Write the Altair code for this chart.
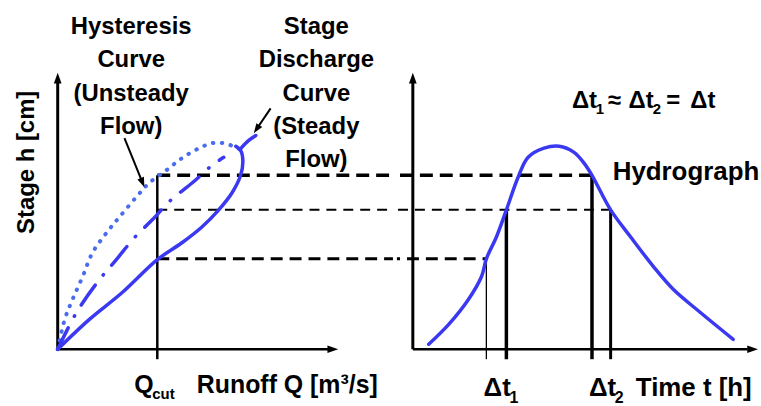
import math
import altair as alt
import pandas as pd

FONT = "Liberation Sans"
BLUE = "#3b38f2"
DOT_BLUE = "#4a6cf0"
LEFT_W, RIGHT_W, HEIGHT = 395, 366, 406

# ---------------- data ----------------
# stage h [cm], runoff Q [m3/s], time t [h]
H_DOMAIN = [-20.14, 125.9]
Q_DOMAIN = [-20.57, 119.5]
T_DOMAIN = [-4.61, 100.86]
AXIS_END = 100
BELOW_AXIS = -3.6

STAGE_LEVELS = [62.9, 50.4, 32.7]
Q_CUT = 35.5
LEVEL_T_END = [51.9, 57.3, 21.3]
T_MARKS = [21.3, 27.1, 51.9, 57.3]
T_MARK_TOPS = [32.7, 50.4, 62.9, 50.4]

# hysteresis loop, rising branch (dotted)
HYST_RISE_Q = [0, 2.5, 5.3, 8.9, 12.4, 17.4, 22.0, 28.0, 32.6, 38.7, 44.3, 50.4, 55.0, 59.2, 63.5, 64.8]
HYST_RISE_H = [0, 10.8, 18.0, 26.3, 34.9, 42.1, 47.8, 55.0, 60.1, 64.7, 69.1, 72.7, 74.5, 74.5, 73.0, 72.3]
# hysteresis loop, falling branch (solid)
HYST_FALL_Q = [0, 11.3, 23.0, 35.5, 44.3, 51.4, 57.4, 62.1, 65.2, 66.0, 65.2, 63.5]
HYST_FALL_H = [0, 10.8, 20.5, 32.4, 38.5, 44.2, 50.4, 56.5, 62.9, 68.3, 71.9, 73.4]
# stage-discharge curve (steady flow, dash-dot) and its tail
STEADY_Q = [0, 6.7, 14.9, 20.9, 27.3, 33.7, 40.4, 47.9, 55.0, 59.2]
STEADY_H = [0, 13.3, 25.2, 32.4, 40.3, 46.8, 54.0, 60.1, 66.5, 69.4]
TAIL_Q = [65.0, 68.1, 70.6]
TAIL_H = [72.3, 75.5, 77.3]

# hydrograph
HYDRO_T = [4.6, 10.4, 16.1, 19.9, 21.3, 24.2, 27.1, 30.5, 33.4, 38.0, 42.4, 46.7,
           49.6, 51.9, 57.3, 63.1, 69.7, 75.5, 83.3, 92.8]
HYDRO_H = [1.8, 9.0, 18.0, 26.3, 32.7, 40.6, 50.4, 62.2, 69.4, 72.7, 73.4, 71.2,
           67.3, 62.9, 50.4, 40.6, 29.9, 21.6, 13.3, 3.6]

# annotation arrows (left panel)
ARROW_FROM_Q = [23.8, 75.9]
ARROW_FROM_H = [76.3, 87.1]
ARROW_TO_Q = [30.9, 69.9]
ARROW_TO_H = [58.6, 78.1]
ARROW_ANGLE = [157.8, 214.2]

# texts
TITLE_ROWS_H = [114.0, 102.0, 89.9, 77.9, 65.8]
TITLE_LEFT = ["Hysteresis", "Curve", "(Unsteady", "Flow)"]
TITLE_LEFT_Q = 26.2
TITLE_RIGHT = ["Stage", "Discharge", "Curve", "(Steady", "Flow)"]
TITLE_RIGHT_Q = 92.2
Y_LABEL = "Stage h [cm]"
Y_LABEL_POS = (-11.0, 67.6)
X_LABEL_LEFT = ["Q", "Runoff Q [m³/s]"]
X_LABEL_LEFT_Q = [27.3, 49.6]
X_LABEL_H = -15.8
QCUT_SUB = "cut"
QCUT_SUB_POS = (33.7, -18.0)

EQ_MAIN = ["Δt", "≈", "Δt", "=", "Δt"]
EQ_MAIN_T = [46.1, 56.5, 62.5, 73.4, 80.4]
EQ_SUB = ["1", "2"]
EQ_SUB_T = [53.0, 69.5]
EQ_H, EQ_SUB_H = 87.4, 84.9
HYDRO_LABEL = "Hydrograph"
HYDRO_LABEL_POS = (57.9, 61.2)
BOTTOM_MAIN = ["Δt", "Δt", "Time t [h]"]
BOTTOM_MAIN_T = [20.5, 51.0, 64.6]
BOTTOM_SUB = ["1", "2"]
BOTTOM_SUB_T = [28.0, 58.5]
BOTTOM_H, BOTTOM_SUB_H = -16.9, -19.6

ARROW_SHAPE = "M0,0L-0.5,1.4L0.5,1.4Z"


# ---------------- helpers ----------------
def X(field, dom):
    return alt.X(field, type="quantitative",
                 scale=alt.Scale(domain=dom, nice=False, zero=False), axis=None)


def Y(field):
    return alt.Y(field, type="quantitative",
                 scale=alt.Scale(domain=H_DOMAIN, nice=False, zero=False), axis=None)


def vrule(x, y, y2, dom, width):
    df = pd.DataFrame({"x": [x], "y": [y], "y2": [y2]})
    return alt.Chart(df).mark_rule(color="black", strokeWidth=width).encode(
        x=X("x", dom), y=Y("y"), y2="y2")


def hrule(x, x2, y, dom, width, dash=None, offset=0):
    df = pd.DataFrame({"x": [x], "x2": [x2], "y": [y]})
    kw = dict(color="black", strokeWidth=width)
    if dash:
        kw["strokeDash"] = dash
        kw["strokeDashOffset"] = offset
    return alt.Chart(df).mark_rule(**kw).encode(x=X("x", dom), x2="x2", y=Y("y"))


def seg(x, y, x2, y2, dom, width):
    df = pd.DataFrame({"x": [x], "y": [y], "x2": [x2], "y2": [y2]})
    return alt.Chart(df).mark_rule(color="black", strokeWidth=width).encode(
        x=X("x", dom), y=Y("y"), x2="x2", y2="y2")


def head(x, y, angle, dom, size=256):
    df = pd.DataFrame({"x": [x], "y": [y]})
    return alt.Chart(df).mark_point(shape=ARROW_SHAPE, filled=True, size=size,
                                    angle=angle, color="black", opacity=1).encode(
        x=X("x", dom), y=Y("y"))


def curve(xs, ys, dom, color, width, dash=None):
    df = pd.DataFrame({"x": xs, "y": ys, "i": range(len(xs))})
    kw = dict(color=color, strokeWidth=width, interpolate="catmull-rom",
              strokeCap="round", strokeJoin="round")
    if dash:
        kw["strokeDash"] = dash
    return alt.Chart(df).mark_line(**kw).encode(x=X("x", dom), y=Y("y"), order="i:Q")


def texts(labels, xs, ys, dom, size, align="left", angle=0, baseline="alphabetic"):
    df = pd.DataFrame({"x": xs, "y": ys, "t": labels})
    kw = dict(font=FONT, fontWeight="bold", fontSize=size, align=align,
              baseline=baseline, color="black")
    if angle:
        kw["angle"] = angle
    return alt.Chart(df).mark_text(**kw).encode(x=X("x", Q_DOMAIN if dom == "q" else T_DOMAIN),
                                                 y=Y("y"), text="t:N")


QD, TD = Q_DOMAIN, T_DOMAIN
DASHES = [([13, 7], 3.5), ([10, 7], 2.0), ([12, 7], 3.0)]

# ---------------- left panel ----------------
left_layers = [
    vrule(0, 0, AXIS_END - 3, QD, 3),
    head(0, AXIS_END, 0, QD, 240),
    hrule(0, AXIS_END - 3, 0, QD, 2.5),
    head(AXIS_END, 0, 90, QD, 240),
    vrule(Q_CUT, BELOW_AXIS, STAGE_LEVELS[0], QD, 2.5),
]
left_px_per_unit = LEFT_W / (QD[1] - QD[0])
offsets = []
for lvl, (dash, w) in zip(STAGE_LEVELS, DASHES):
    left_layers.append(hrule(Q_CUT, QD[1], lvl, QD, w, dash))
    offsets.append(((QD[1] - Q_CUT) * left_px_per_unit) % sum(dash))

left_layers += [
    curve(HYST_RISE_Q, HYST_RISE_H, QD, DOT_BLUE, 4, [0.5, 8.5]),
    curve(HYST_FALL_Q, HYST_FALL_H, QD, BLUE, 3.5),
    curve(STEADY_Q, STEADY_H, QD, BLUE, 3.5, [24, 13, 0.5, 13]),
    curve(TAIL_Q, TAIL_H, QD, BLUE, 3.5),
]
for fq, fh, tq, th, ang in zip(ARROW_FROM_Q, ARROW_FROM_H, ARROW_TO_Q, ARROW_TO_H, ARROW_ANGLE):
    eq = fq + 0.85 * (tq - fq)
    eh = fh + 0.85 * (th - fh)
    left_layers.append(seg(fq, fh, eq, eh, QD, 2))
    left_layers.append(head(tq, th, ang, QD, 200))

left_layers += [
    texts(TITLE_LEFT, [TITLE_LEFT_Q] * 4, TITLE_ROWS_H[:4], "q", 24, "center"),
    texts(TITLE_RIGHT, [TITLE_RIGHT_Q] * 5, TITLE_ROWS_H, "q", 24, "center"),
    texts([Y_LABEL], [Y_LABEL_POS[0]], [Y_LABEL_POS[1]], "q", 24, "center", 270, "middle"),
    texts(X_LABEL_LEFT, X_LABEL_LEFT_Q, [X_LABEL_H] * 2, "q", 25, "left"),
    texts([QCUT_SUB], [QCUT_SUB_POS[0]], [QCUT_SUB_POS[1]], "q", 15, "left"),
]
left = alt.layer(*left_layers).properties(width=LEFT_W, height=HEIGHT)

# ---------------- right panel ----------------
right_layers = [
    vrule(0, 0, AXIS_END - 3, TD, 3),
    head(0, AXIS_END, 0, TD, 240),
    hrule(0, AXIS_END - 3, 0, TD, 2.5),
    head(AXIS_END, 0, 90, TD, 240),
]
for lvl, (dash, w), tend, off in zip(STAGE_LEVELS, DASHES, LEVEL_T_END, offsets):
    right_layers.append(hrule(TD[0], tend, lvl, TD, w, dash, off))
for tm, top, w in zip(T_MARKS, T_MARK_TOPS, [1.3, 3.5, 3.5, 3.0]):
    right_layers.append(vrule(tm, BELOW_AXIS, top, TD, w))
right_layers += [
    curve(HYDRO_T, HYDRO_H, TD, BLUE, 3.5),
    texts(EQ_MAIN, EQ_MAIN_T, [EQ_H] * len(EQ_MAIN), "t", 24, "left"),
    texts(EQ_SUB, EQ_SUB_T, [EQ_SUB_H] * 2, "t", 15, "left"),
    texts([HYDRO_LABEL], [HYDRO_LABEL_POS[0]], [HYDRO_LABEL_POS[1]], "t", 26, "left"),
    texts(BOTTOM_MAIN, BOTTOM_MAIN_T, [BOTTOM_H] * 3, "t", 26, "left"),
    texts(BOTTOM_SUB, BOTTOM_SUB_T, [BOTTOM_SUB_H] * 2, "t", 16, "left"),
]
right = alt.layer(*right_layers).properties(width=RIGHT_W, height=HEIGHT)

chart = alt.hconcat(left, right, spacing=0).properties(
    padding=0, background="white"
).configure_view(stroke=None)

chart.save("out.html", embed_options={"renderer": "svg", "actions": False})
